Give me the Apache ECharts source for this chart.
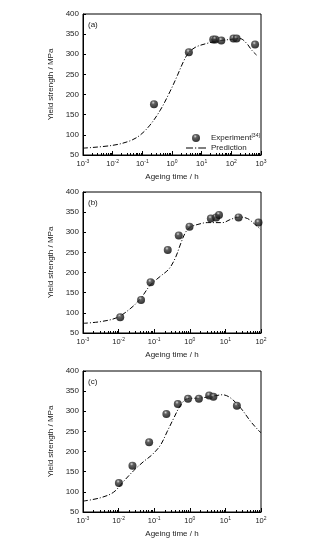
<!DOCTYPE html>
<html><head><meta charset="utf-8">
<script src="https://cdn.jsdelivr.net/npm/echarts@6/dist/echarts.min.js"></script>
<style>html,body{margin:0;padding:0;background:#fff;}#c{width:335px;height:542px;}</style>
</head><body><div id="c"></div>
<script>
// ---- data ----
const panelLabels = ['(a)', '(b)', '(c)'];
const xMaxA = 1000, xMaxBC = 100, xMin = 0.001;
const yTicks = [50, 100, 150, 200, 250, 300, 350, 400];

const expTimeA = [0.247, 3.7, 24.5, 29, 46, 118, 150, 630];
const expValA  = [176, 305, 337, 337, 334, 339, 339, 324];
const predTimeA = [0.001, 0.01, 0.038, 0.083, 0.18, 0.40, 0.85, 1.45, 2.4, 3.5, 6, 15, 42, 117, 195, 330, 490, 710];
const predValA  = [67, 74, 85, 99, 124, 161, 207, 244, 281, 302, 317, 327, 334, 337.5, 339, 327, 310, 298];

const expTimeB = [0.0111, 0.0427, 0.079, 0.24, 0.49, 0.98, 3.9, 5.5, 6.6, 23.4, 85];
const expValB  = [89, 132, 176, 256, 292, 314, 334, 337, 343, 337, 324];
const predTimeB = [0.001, 0.003, 0.0089, 0.021, 0.041, 0.078, 0.15, 0.26, 0.40, 0.55, 0.76, 1.05, 1.6, 3.1, 8.3, 14, 25, 42, 65, 93, 100];
const predValB  = [74, 78, 88, 110, 135, 169, 191, 209, 238, 271, 300, 313, 319, 324, 324, 332, 338, 334, 321, 309, 306];

const expTimeC = [0.0102, 0.0245, 0.072, 0.22, 0.46, 0.89, 1.8, 3.5, 4.6, 21];
const expValC  = [122, 165, 223, 293, 318, 331, 331, 339, 336, 314];
const predTimeC = [0.001, 0.003, 0.0072, 0.0138, 0.026, 0.05, 0.087, 0.15, 0.23, 0.35, 0.55, 0.85, 2.0, 4.8, 8.3, 14, 27.5, 52, 93, 100];
const predValC  = [77, 85, 99, 126, 152, 175, 192, 216, 249, 282, 315, 331, 333, 338, 341, 333, 307, 274, 249, 247];

const legendExp = 'Experiment';
const legendRef = '[34]';
const legendPred = 'Prediction';
const xName = 'Ageing time / h';
const yName = 'Yield strength / MPa';

// ---- build ----
const chart = echarts.init(document.getElementById('c'));
const FONT = 'Liberation Sans, Arial, sans-serif';
const TXT = '#222';

function decades(min, max) { const a = []; for (let e = Math.round(Math.log10(min)); e <= Math.round(Math.log10(max)); e++) a.push(Math.pow(10, e)); return a; }
function minors(min, max) { const a = []; for (let e = Math.round(Math.log10(min)); e < Math.round(Math.log10(max)); e++) for (let m = 2; m <= 9; m++) a.push(m * Math.pow(10, e)); return a; }
function expOf(v) { return parseInt(Number(v).toExponential(0).split('e')[1], 10); }

const panels = [
  { top: 14, max: xMaxA, et: expTimeA, ev: expValA, pt: predTimeA, pv: predValA },
  { top: 192, max: xMaxBC, et: expTimeB, ev: expValB, pt: predTimeB, pv: predValB },
  { top: 371, max: xMaxBC, et: expTimeC, ev: expValC, pt: predTimeC, pv: predValC }
];

const markerColor = new echarts.graphic.RadialGradient(0.4, 0.3, 0.7, [
  { offset: 0, color: '#cfcfcf' }, { offset: 0.3, color: '#3a3a3a' }, { offset: 1, color: '#000' }
]);

const grid = [], xAxis = [], yAxis = [], series = [], graphic = [];
panels.forEach((p, i) => {
  grid.push({ left: 83, width: 178, top: p.top, height: 141, show: true, borderColor: '#000', borderWidth: 1, backgroundColor: 'transparent' });
  xAxis.push({
    type: 'log', gridIndex: i, min: xMin, max: p.max, logBase: 10,
    name: xName, nameLocation: 'middle', nameGap: 18,
    nameTextStyle: { fontFamily: FONT, fontSize: 8, color: TXT },
    axisLine: { lineStyle: { color: '#000', width: 1 } },
    axisTick: { inside: true, length: 4, customValues: decades(xMin, p.max), lineStyle: { color: '#000' } },
    axisLabel: {
      customValues: decades(xMin, p.max), margin: 4, fontFamily: FONT, fontSize: 7.5, color: TXT,
      formatter: v => '10{s|' + expOf(v) + '}',
      rich: { s: { fontSize: 5, verticalAlign: 'top', padding: [0, 0, 5, 0], fontFamily: FONT, color: TXT } }
    },
    splitLine: { show: false }
  });
  xAxis.push({
    type: 'log', gridIndex: i, min: xMin, max: p.max, logBase: 10, position: 'bottom',
    axisLine: { show: false },
    axisTick: { inside: true, length: 2, customValues: minors(xMin, p.max), lineStyle: { color: '#000' } },
    axisLabel: { show: false }, splitLine: { show: false }
  });
  yAxis.push({
    type: 'value', gridIndex: i, min: 50, max: 400, interval: 50,
    name: yName, nameLocation: 'middle', nameGap: 17, nameRotate: 90,
    nameTextStyle: { fontFamily: FONT, fontSize: 8, color: TXT },
    axisLine: { show: true, lineStyle: { color: '#000', width: 1 } },
    axisTick: { show: true, inside: true, length: 3, lineStyle: { color: '#000' } },
    axisLabel: { margin: 4, fontFamily: FONT, fontSize: 8, color: TXT },
    splitLine: { show: false }
  });
  series.push({
    name: legendPred, type: 'line', xAxisIndex: 2 * i, yAxisIndex: i,
    data: p.pt.map((t, k) => [t, p.pv[k]]), smooth: 0.35, showSymbol: false, symbol: 'none',
    lineStyle: { color: '#000', width: 1, type: [5, 2, 1, 2] }, itemStyle: { color: '#000' }, z: 2
  });
  series.push({
    name: legendExp, type: 'scatter', xAxisIndex: 2 * i, yAxisIndex: i,
    data: p.et.map((t, k) => [t, p.ev[k]]), symbol: 'circle', symbolSize: 8,
    itemStyle: { color: markerColor }, z: 3
  });
  graphic.push({ type: 'text', left: 88, top: p.top + 7, style: { text: panelLabels[i], font: '8px ' + FONT, fill: TXT } });
});

chart.setOption({
  animation: false,
  grid, xAxis, yAxis, series, graphic,
  legend: {
    left: 181, top: 128, orient: 'vertical', itemGap: 2, itemWidth: 20, itemHeight: 8,
    data: [
      { name: legendExp },
      { name: legendPred,
        icon: 'path://M0,0 M20,8 M0,3.5h7v1h-7z M9,3.5h1.2v1h-1.2z M12.2,3.5h7.8v1h-7.8z',
        itemStyle: { color: '#000', borderWidth: 0, opacity: 1 } }
    ],
    formatter: n => n === legendExp ? n + '{s|' + legendRef + '}' : n,
    textStyle: { fontFamily: FONT, fontSize: 8, color: TXT, rich: { s: { fontSize: 5, verticalAlign: 'top', padding: [0, 0, 5, 0], fontFamily: FONT, color: TXT } } }
  }
});
</script>
</body></html>
